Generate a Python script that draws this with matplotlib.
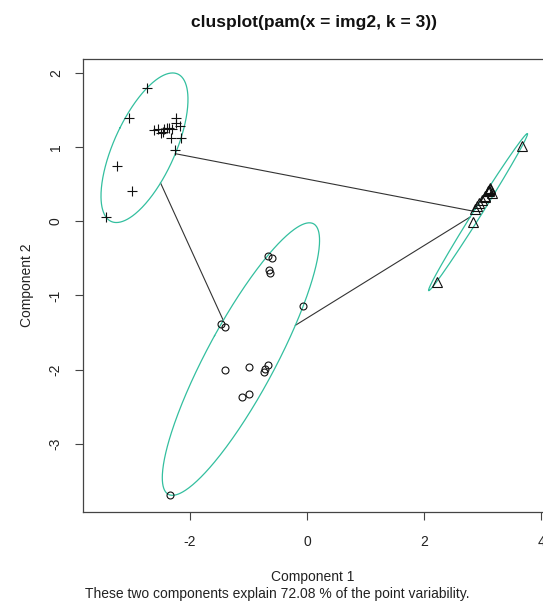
import numpy as np
import matplotlib
matplotlib.use("Agg")
import matplotlib.pyplot as plt

plt.rcParams['font.family'] = ['Liberation Sans', 'DejaVu Sans']

# PCA scores (component 1, component 2) for each PAM cluster
c1_x = [-2.74, -3.04, -3.24, -2.99, -3.44, -2.256, -2.615, -2.54, -2.50, -2.444,
        -2.398, -2.354, -2.313, -2.244, -2.244, -2.166, -2.154, -2.33, -2.456]
c1_y = [1.79, 1.386, 0.744, 0.41, 0.06, 0.959, 1.229, 1.242, 1.184, 1.242,
        1.251, 1.259, 1.242, 1.386, 1.319, 1.286, 1.117, 1.117, 1.205]

c2_x = [-0.672, -0.603, -0.644, -0.632, -0.063, -1.47, -1.402, -1.402, -0.987,
        -0.662, -0.718, -0.735, -1.106, -0.987, -2.342]
c2_y = [-0.464, -0.499, -0.657, -0.693, -1.138, -1.388, -1.420, -2.008, -1.959,
        -1.936, -1.994, -2.030, -2.363, -2.327, -3.687]

c3_x = [3.68, 2.217, 2.843, 2.904, 2.874, 2.944, 2.993, 3.043, 3.043, 3.099,
        3.129, 3.11, 3.157, 3.106, 3.128]
c3_y = [1.017, -0.814, -0.007, 0.198, 0.164, 0.242, 0.291, 0.339, 0.33, 0.406,
        0.443, 0.407, 0.384, 0.420, 0.427]

clusters = [(c1_x, c1_y, '+'), (c2_x, c2_y, 'o'), (c3_x, c3_y, '^')]

title = "clusplot(pam(x = img2, k = 3))"
xlab = "Component 1"
ylab = "Component 2"
sub = "These two components explain 72.08 % of the point variability."
xticks = [-2, 0, 2, 4]
yticks = [-3, -2, -1, 0, 1, 2]


def min_volume_ellipse(P, tol=1e-6, max_iter=20000):
    """Khachiyan's algorithm: smallest ellipse (x-c)' A (x-c) <= 1 holding all points."""
    n, d = P.shape
    Q = np.vstack([P.T, np.ones(n)])
    u = np.full(n, 1.0 / n)
    for _ in range(max_iter):
        X = (Q * u) @ Q.T
        M = np.einsum('ij,ij->j', Q, np.linalg.solve(X, Q))
        j = int(np.argmax(M))
        step = (M[j] - d - 1) / ((d + 1) * (M[j] - 1))
        new_u = (1 - step) * u
        new_u[j] += step
        err = np.linalg.norm(new_u - u)
        u = new_u
        if err < tol:
            break
    c = P.T @ u
    S = (P.T * u) @ P - np.outer(c, c)
    A = np.linalg.inv(S) / d
    # scale so every point lies inside or on the boundary
    r = np.max(np.einsum('ij,jk,ik->i', P - c, A, P - c))
    return c, A / r


def ellipse_outline(c, A, n=400):
    vals, vecs = np.linalg.eigh(np.linalg.inv(A))
    t = np.linspace(0, 2 * np.pi, n)
    circ = np.vstack([np.cos(t), np.sin(t)])
    pts = vecs @ (np.sqrt(vals)[:, None] * circ)
    return c[0] + pts[0], c[1] + pts[1]


fig = plt.figure(figsize=(5.43, 6.01), dpi=100)
W, H = 543.0, 601.0
ax = fig.add_axes([83 / W, 1 - 512 / H, (545 - 83) / W, (512 - 59) / H])
ax.set_xlim(-3.829, 4.068)
ax.set_ylim(-3.916, 2.184)

ell_col = '#33bf9f'
pt_col = '#111111'
line_col = '#333333'

ells = []
for xs, ys, mk in clusters:
    P = np.column_stack([xs, ys])
    c, A = min_volume_ellipse(P)
    ells.append((c, A))
    ex, ey = ellipse_outline(c, A)
    ax.plot(ex, ey, color=ell_col, lw=0.9, zorder=2)

# distance lines between ellipse boundaries along the centre-to-centre direction
for i, j in [(0, 2), (0, 1), (1, 2)]:
    ci, Ai = ells[i]
    cj, Aj = ells[j]
    d = cj - ci
    ti = 1.0 / np.sqrt(d @ Ai @ d)
    tj = 1.0 / np.sqrt(d @ Aj @ d)
    p0 = ci + ti * d
    p1 = cj - tj * d
    ax.plot([p0[0], p1[0]], [p0[1], p1[1]], color=line_col, lw=0.8, zorder=1)

msize = {'+': 7.5, 'o': 5.0, '^': 7.0}
for xs, ys, mk in clusters:
    ax.plot(xs, ys, linestyle='none', marker=mk, ms=msize[mk],
            mfc='none', mec=pt_col, mew=0.8, zorder=3)

ax.set_xticks(xticks)
ax.set_yticks(yticks)
ax.set_xticklabels([str(v) for v in xticks])
ax.set_yticklabels([str(v) for v in yticks], rotation=90, va='center')
ax.tick_params(axis='both', direction='out', length=5.5, width=0.8,
               color='#444444', labelsize=10, labelcolor='#222222')
ax.tick_params(axis='x', pad=11)
ax.tick_params(axis='y', pad=9)
for s in ax.spines.values():
    s.set_color('#444444')
    s.set_linewidth(0.9)

fig.text(314 / W, 1 - 23 / H, title, ha='center', va='center',
         fontsize=12.5, fontweight='bold', color='#111111')
fig.text(313 / W, 1 - 577 / H, xlab, ha='center', va='center',
         fontsize=10, color='#222222')
fig.text(277 / W, 1 - 594 / H, sub, ha='center', va='center',
         fontsize=10, color='#222222')
fig.text(27 / W, 1 - 285.5 / H, ylab, ha='center', va='center',
         rotation=90, fontsize=10, color='#222222')

fig.savefig('out.png', dpi=100, facecolor='white')
